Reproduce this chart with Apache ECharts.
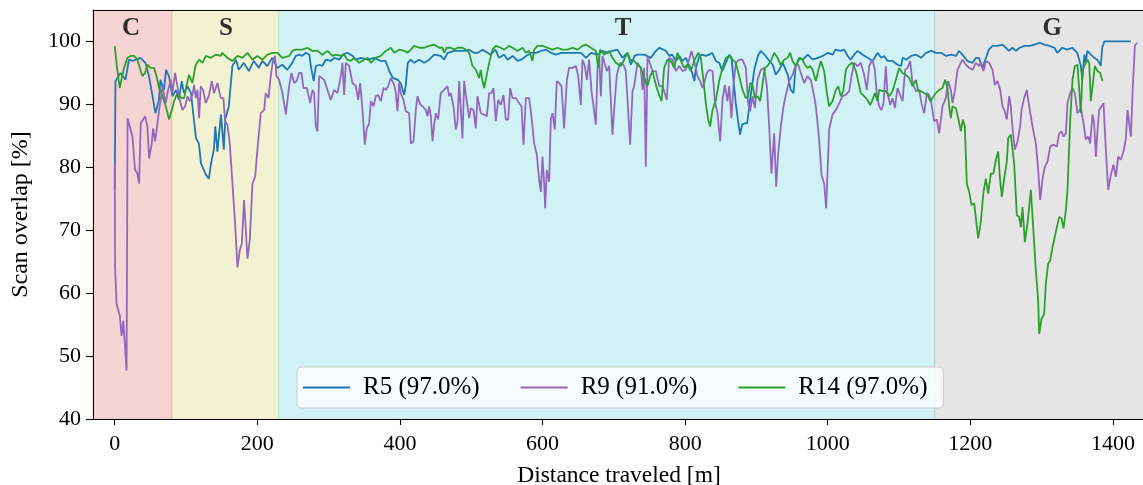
<!DOCTYPE html>
<html><head><meta charset="utf-8">
<script src="https://cdn.jsdelivr.net/npm/echarts@6/dist/echarts.min.js"></script>
<style>html,body{margin:0;padding:0;background:#fff}#c{width:1143px;height:485px}</style>
</head><body><div id="c"></div>
<script>
const bandNames=['C','S','T','G'];
const bandEdges=[-30.5,80,230,1150,1445];
const bandLabelX=[23,156,713,1315];
const bandLabelY=102.0;
const xTicks=[0,200,400,600,800,1000,1200,1400];
const yTicks=[40,50,60,70,80,90,100];
const seriesNames=['R5 (97.0%)','R9 (91.0%)','R14 (97.0%)'];

const r5Points=[[0,76.5],[1,93.7],[8,95.0],[15,93.9],[20,97.1],[25,96.9],[36,97.4],[43,96.6],[48,94.5],[53,91.3],[57,88.6],[62,90.7],[64,93.9],[69,92.3],[72,95.5],[76,94.5],[81,91.3],[86,92.3],[90,90.7],[94,93.7],[97,91.8],[102,92.9],[107,91.8],[111,87.6],[114,84.6],[118,83.8],[121,80.6],[128,78.8],[132,78.2],[135,80.6],[139,82.8],[141,86.5],[144,82.5],[149,88.4],[153,82.8],[155,87.6],[160,89.7],[165,96.1],[170,97.1],[174,95.5],[181,96.6],[188,95.3],[195,96.9],[202,95.8],[207,96.9],[214,96.1],[221,97.4],[228,95.8],[235,96.3],[242,95.5],[249,96.6],[254,97.7],[259,97.9],[263,97.7],[268,98.2],[273,97.9],[275,96.1],[279,93.7],[282,96.1],[287,96.3],[291,96.1],[296,97.1],[303,96.9],[308,97.4],[315,97.1],[320,97.9],[326,98.2],[334,97.7],[338,97.1],[345,97.4],[355,97.1],[364,97.4],[373,96.9],[380,96.9],[385,95.3],[390,94.2],[397,93.9],[401,93.4],[406,91.5],[408,92.9],[411,96.6],[415,97.1],[420,96.6],[427,97.1],[434,96.6],[441,97.1],[448,97.9],[457,97.7],[462,97.1],[467,98.2],[476,98.5],[485,98.5],[492,98.5],[497,98.7],[504,98.2],[509,98.2],[516,98.7],[523,98.2],[527,97.9],[534,98.7],[539,97.4],[546,97.9],[551,97.1],[558,97.7],[565,96.9],[570,97.1],[577,97.7],[584,98.2],[591,98.2],[598,98.5],[605,98.7],[612,98.2],[619,97.9],[626,98.2],[635,98.2],[644,98.2],[654,98.2],[661,97.4],[668,98.2],[677,97.9],[684,98.5],[691,98.2],[698,98.5],[705,98.7],[712,97.4],[719,98.2],[724,96.3],[729,97.7],[733,97.9],[743,97.9],[752,97.4],[759,98.5],[764,99.0],[773,98.5],[778,97.7],[782,97.9],[787,96.9],[792,97.7],[796,96.9],[801,97.4],[806,96.1],[810,95.0],[813,93.7],[815,95.8],[820,97.7],[824,97.9],[829,97.7],[834,97.9],[838,98.2],[843,96.9],[848,96.6],[852,95.3],[857,96.6],[862,97.9],[865,97.4],[868,93.7],[871,90.2],[874,87.6],[877,85.2],[880,86.8],[884,87.0],[887,87.0],[890,89.7],[893,92.3],[897,95.5],[902,97.7],[906,98.5],[913,97.7],[918,96.9],[923,96.3],[927,94.7],[932,95.5],[937,96.6],[944,94.7],[948,92.3],[952,91.8],[955,96.1],[960,97.4],[965,97.1],[972,97.9],[979,97.1],[986,97.4],[993,97.7],[1000,98.2],[1007,97.9],[1011,98.7],[1018,98.5],[1023,98.7],[1028,97.7],[1032,97.1],[1037,97.9],[1042,98.5],[1049,97.9],[1056,97.4],[1063,96.9],[1070,98.2],[1075,97.4],[1079,97.7],[1084,96.9],[1091,96.9],[1098,96.3],[1103,96.1],[1105,97.4],[1110,97.1],[1117,97.7],[1124,97.9],[1131,97.4],[1138,98.2],[1145,98.5],[1152,98.2],[1159,98.2],[1166,97.7],[1173,97.9],[1180,97.7],[1184,98.5],[1189,97.9],[1196,96.9],[1203,96.6],[1208,97.4],[1212,97.4],[1217,95.8],[1222,97.4],[1226,98.7],[1231,99.3],[1238,99.3],[1245,99.5],[1250,99.0],[1254,98.5],[1259,99.0],[1264,98.5],[1269,99.0],[1276,99.3],[1283,99.3],[1290,99.5],[1297,99.8],[1304,99.5],[1311,99.3],[1318,99.0],[1322,98.2],[1329,99.0],[1336,98.7],[1343,99.0],[1350,98.2],[1355,96.1],[1357,93.9],[1360,97.9],[1362,96.6],[1364,98.5],[1369,97.9],[1374,97.4],[1378,97.1],[1381,96.6],[1383,96.1],[1385,99.0],[1388,100],[1397,100],[1425,100]];

const r9Points=[[0,80.5],[0.5,64],[2.5,58.3],[7,56.5],[9.6,53.2],[12,55.6],[14.3,55.6],[16.6,47.7],[18,87.8],[24.8,84.9],[28.5,79.6],[31.8,79.0],[34.1,77.4],[36.5,87.0],[38.8,86.8],[42.6,88.1],[45.8,86.5],[48.2,81.4],[51.9,83.8],[53.8,86.2],[56.6,84.1],[59.9,87.0],[62.2,89.1],[64.5,90.7],[66.9,92.9],[71.5,90.2],[73.9,91.8],[78.6,93.9],[80.9,91.8],[84.6,95.0],[87.9,92.9],[91.2,90.7],[95,89.1],[98.7,89.7],[102,91.3],[105.2,90.5],[109,91.5],[111.3,93.1],[113.6,91.0],[116,92.3],[118.3,87.8],[120.6,92.9],[123.9,92.3],[127.7,90.2],[132.3,91.5],[136.1,93.7],[139.3,91.8],[144,93.4],[148.7,91.0],[152.4,91.0],[154.8,87.3],[158,86.8],[161.3,83.8],[165.1,77.4],[168.8,71.1],[172.1,64.1],[175.4,66.8],[178.2,67.9],[181.4,74.8],[183.8,70.0],[186.1,65.5],[189.4,68.4],[193.1,77.4],[196.9,78.5],[200.1,82.8],[204.8,88.6],[209.5,89.1],[211.8,91.8],[215.6,91.0],[218.8,94.5],[222.1,97.1],[224.9,97.7],[226.8,94.5],[230.5,93.9],[235.2,91.8],[240,88.4],[244.6,92.9],[247.9,95.0],[251.6,93.4],[255.3,93.7],[258.6,95.0],[261.9,95.0],[264.7,92.6],[269.4,92.6],[271.7,91.5],[274,90.2],[277.3,92.3],[279.7,91.8],[282,86.5],[284.3,85.7],[286.7,94.5],[289,94.7],[293.7,93.9],[298.4,92.3],[303,90.7],[307.7,92.3],[312.4,91.8],[317.1,94.5],[319.4,96.6],[321.7,91.5],[324.1,96.6],[328.8,96.1],[333.4,93.4],[338.1,92.9],[341.4,90.7],[344.2,93.4],[347.5,89.1],[350.7,83.6],[353.5,86.2],[356.8,87.0],[359.2,90.5],[362.9,89.7],[366.2,91.3],[369.4,91.5],[373.2,90.5],[376.9,92.6],[380.2,92.3],[383.5,92.9],[387.2,94.2],[391.9,93.1],[394.2,91.8],[396.6,88.9],[398.9,93.4],[401.2,91.8],[405,90.7],[408.3,88.9],[412.9,88.6],[415.3,83.8],[419,84.1],[422.3,89.1],[424.6,91.3],[428.4,90.0],[431.6,89.7],[436.3,89.1],[438.6,88.1],[441,89.7],[443.3,88.1],[445.7,84.1],[448,86.8],[450.3,88.6],[453.6,87.6],[457.3,91.8],[462,92.3],[466.7,92.9],[469,91.3],[471.4,91.8],[475.1,89.7],[478.4,86.0],[480.7,87.3],[483.1,93.7],[485.4,93.4],[487.7,84.6],[490.1,93.7],[492.4,91.5],[494.8,89.7],[497.1,87.8],[499.4,89.4],[503.2,89.1],[506.4,86.2],[508.8,91.3],[513.4,88.6],[518.1,88.35],[521.8,88.1],[525.1,91.8],[528.4,91.8],[531.2,92.6],[534.5,87.3],[537.7,90.7],[541.5,89.9],[545.2,91.5],[548.5,87.6],[551.8,87.6],[554.6,92.6],[557.9,91.0],[562.5,91.0],[567.2,90.2],[570.5,89.7],[573.3,83.6],[576.6,91.0],[581.2,91.0],[584.5,88.1],[588.2,83.8],[592,82.0],[595.3,78.0],[597.6,76.1],[599.9,81.7],[602.3,77.4],[603.7,73.5],[606,79.6],[609.3,77.7],[611.6,87.6],[614,88.6],[617.2,86.0],[620,93.7],[623.3,93.4],[626.6,92.9],[630.3,86.2],[634.1,93.9],[637.3,95.8],[642,95.8],[646.7,96.1],[650,94.5],[653.7,89.9],[656,97.1],[659.3,96.1],[662.1,93.9],[665.4,97.1],[668.7,92.1],[671.5,92.3],[674.8,86.8],[677.1,95.8],[679.4,97.7],[681.8,91.3],[684.1,97.7],[686.4,97.9],[690.2,95.3],[693.5,96.1],[698.1,85.2],[701.4,90.7],[704.2,94.7],[708.9,96.6],[713.6,96.3],[716.8,95.3],[722.9,83.6],[726.2,92.1],[728.5,92.9],[733.2,96.6],[737.9,95.8],[740.2,92.3],[742.6,95.8],[744.9,80.1],[747.2,97.7],[749.6,97.4],[754.2,95.3],[758.9,95.3],[763.6,92.9],[768.3,92.9],[770.6,92.9],[774.3,90.7],[777.6,97.4],[782.3,97.1],[786.9,95.3],[791.6,96.1],[796.3,95.3],[801,95.5],[805.6,97.1],[808.9,98.5],[812.7,96.9],[817.3,94.5],[821.1,93.7],[824.4,92.6],[826.7,93.4],[830.4,95.0],[833.7,95.5],[838.4,95.3],[841.7,90.5],[845.4,88.6],[849.1,84.1],[852.4,90.7],[855.7,93.1],[859.4,90.5],[861.8,92.9],[865,87.8],[867.8,93.1],[871.1,96.6],[875.8,97.1],[880.5,97.1],[885.1,95.8],[888.4,90.2],[891.2,88.9],[894.5,91.3],[897.8,89.4],[901.5,93.9],[906.2,95.5],[910.9,95.8],[914.6,92.9],[917.9,86.5],[921.1,79.0],[924.9,85.4],[927.7,76.9],[930.5,82.2],[934.2,86.5],[938,89.7],[941.3,91.5],[945.9,93.7],[950.6,94.7],[955.3,96.3],[958.6,96.3],[962.3,95.0],[967,93.4],[971.6,94.5],[976.3,93.9],[980.1,91.8],[983.3,89.7],[988,84.4],[991.3,78.8],[995,77.4],[997.8,73.5],[1002,86.0],[1006.7,88.4],[1011.4,89.1],[1016.1,90.2],[1020.7,91.3],[1025.4,91.5],[1030.1,92.1],[1033.4,94.5],[1037.1,96.6],[1041.8,96.1],[1046.4,96.6],[1051.1,94.7],[1054.8,92.3],[1058.1,96.1],[1062.8,97.1],[1066.1,95.5],[1068.9,91.5],[1072.1,89.7],[1075.4,89.1],[1078.2,90.2],[1081.5,96.1],[1083.8,91.8],[1087.6,89.9],[1090.9,91.0],[1094.1,89.4],[1097.9,92.6],[1101.6,91.5],[1104.9,90.5],[1108.6,95.5],[1111.9,95.8],[1115.6,96.9],[1118.9,93.4],[1123.6,92.1],[1128.3,92.3],[1131.5,90.2],[1135.3,88.6],[1139,91.8],[1142.3,91.5],[1144.6,90.7],[1149.3,87.3],[1153,87.6],[1156.3,85.4],[1161,89.7],[1165.6,91.0],[1168.9,93.7],[1172.7,92.3],[1175,90.2],[1178.3,92.1],[1182,95.5],[1186.7,96.6],[1189,97.1],[1193.7,96.3],[1198.4,95.8],[1203.1,95.5],[1207.8,96.6],[1212.4,96.1],[1214.8,96.6],[1218.5,95.3],[1221.8,96.9],[1226.5,96.6],[1231.1,95.5],[1234.4,93.1],[1238.1,93.7],[1241.9,92.3],[1245.1,89.7],[1248.4,88.9],[1251.2,87.6],[1254.5,91.3],[1256.8,89.7],[1259.2,86.2],[1262.4,82.8],[1266.2,84.1],[1269.9,86.5],[1271.8,89.1],[1275.5,91.0],[1279.3,92.3],[1282.5,89.7],[1287.2,86.5],[1291.9,83.8],[1295.2,79.6],[1298,74.8],[1301.3,78.2],[1304.5,80.1],[1308.3,80.9],[1312,83.3],[1316.7,83.6],[1321.3,83.3],[1324.6,85.4],[1327.9,85.7],[1330.7,84.9],[1334,85.4],[1336.3,90.2],[1340.1,91.8],[1343.3,92.6],[1346.6,91.8],[1350.3,88.6],[1352.7,88.4],[1355,89.4],[1358.8,87.0],[1362,84.4],[1365.3,84.9],[1368.1,83.8],[1371.4,88.4],[1373.7,87.0],[1376.1,81.7],[1378.4,85.9],[1380.7,89.1],[1384,89.7],[1386.8,90.2],[1390.1,82.8],[1393.4,76.4],[1397.1,78.8],[1400.8,80.4],[1404.1,78.5],[1407.4,81.7],[1411.1,81.2],[1414.9,82.5],[1418.2,84.6],[1420.5,89.1],[1422.8,87.0],[1425.2,84.9],[1427.5,91.8],[1430.8,99.3],[1433.6,99.8]];

const r14Points=[[0,99.25],[3.7,95.3],[7,92.6],[9.8,94.2],[13.1,95.8],[17.8,97.4],[22.4,97.7],[27.1,97.7],[31.8,97.1],[36.5,95.3],[38.8,94.5],[42.6,95.0],[45.8,96.3],[50.5,95.8],[55.2,95.8],[58.5,94.5],[62.2,92.6],[66.9,91.3],[71.5,89.7],[76.2,87.6],[80,89.1],[83.2,90.5],[86.5,91.5],[90.3,91.3],[94,91.0],[97.3,91.0],[100.5,92.9],[104.3,94.7],[108.9,93.4],[113.6,96.3],[118.3,97.1],[123,96.6],[127.7,97.7],[134.7,97.4],[141.7,97.9],[148.7,97.7],[151,98.2],[158,97.4],[165.1,96.9],[172.1,97.7],[179.1,97.4],[186.1,98.2],[193.1,97.1],[200.1,97.7],[207.2,97.1],[214.2,97.9],[221.2,98.2],[228.2,98.2],[235.2,97.4],[244.6,97.7],[249.2,98.5],[253.9,98.7],[263.3,98.7],[270.3,99.0],[277.3,98.5],[284.3,98.5],[291.4,97.9],[298.4,98.5],[305.4,97.7],[310.1,97.9],[317.1,97.7],[321.7,97.9],[326.4,97.1],[331.1,96.9],[335.8,97.4],[342.8,96.6],[349.8,97.1],[354.5,97.4],[359.2,96.6],[366.2,97.4],[373.2,97.7],[380.2,98.5],[387.2,99.0],[391.9,98.2],[398.9,98.7],[405.9,98.5],[410.6,98.2],[415.3,98.7],[419.9,99.3],[427,99.0],[434,99.0],[441,99.3],[448,99.5],[455,99.0],[459.7,99.0],[462,98.2],[465.8,99.0],[471.4,99.0],[476.1,98.7],[480.7,99.0],[487.7,99.0],[492.4,98.7],[497.1,98.2],[501.7,96.1],[506.4,95.5],[511.1,94.2],[513.4,95.5],[515.8,93.7],[518.1,92.6],[521.8,94.7],[525.1,96.6],[529.8,98.7],[534.5,99.3],[541.5,99.0],[546.2,98.7],[553.2,99.3],[557.9,99.0],[564.9,98.5],[571.9,99.0],[576.6,98.2],[581.2,98.5],[585.9,96.9],[588.2,98.7],[592.9,99.3],[599.9,99.3],[607,99.0],[614,98.7],[621,99.0],[628,98.7],[635,98.7],[642,99.0],[649,98.7],[656,99.3],[660.7,99.5],[667.7,99.0],[674.8,98.5],[678,95.8],[680.8,98.7],[686.4,97.9],[693.5,98.5],[698.1,97.4],[702.8,96.6],[709.8,96.1],[714.5,97.1],[719.2,98.2],[722.9,97.1],[728.5,96.9],[733.2,96.3],[737.9,95.8],[741.6,94.5],[747.2,92.9],[751,94.5],[754.2,95.3],[758.9,93.1],[763.6,91.5],[766.9,90.5],[770.6,95.8],[775.3,97.1],[779.9,96.9],[784.6,95.8],[789.3,98.2],[794,96.9],[798.6,95.8],[803.3,96.3],[808,95.3],[812.7,96.9],[818.3,98.2],[822,97.4],[825.8,93.7],[829,90.2],[832.3,87.6],[835.1,86.5],[838.4,89.1],[843.1,90.7],[847.7,93.7],[852.4,95.8],[857.1,97.4],[861.8,97.7],[866.4,97.1],[871.1,96.6],[875.8,94.5],[880.5,92.3],[885.1,91.0],[888.4,91.3],[891.2,93.4],[894.5,93.1],[897.8,91.0],[901.5,91.3],[905.2,90.5],[908.5,93.1],[911.8,95.8],[915.5,96.1],[920.2,96.9],[924.9,98.2],[929.6,97.4],[934.2,96.3],[938.9,97.1],[943.6,97.4],[947.3,98.2],[950.6,96.9],[955.3,96.1],[958.6,96.9],[961.4,97.4],[964.6,97.1],[967.9,96.3],[971.6,95.8],[975.4,96.1],[978.7,95.5],[983.3,93.7],[986.6,95.3],[990.4,96.9],[995,95.3],[998.8,91.8],[1002,89.7],[1006.7,90.5],[1011.4,92.3],[1014.7,92.9],[1018.4,91.3],[1022.1,92.3],[1025.4,95.5],[1030.1,96.3],[1034.8,96.6],[1039.4,95.3],[1042.7,93.7],[1046.4,91.8],[1051.1,91.3],[1055.8,90.7],[1059.5,89.9],[1062.8,90.7],[1066.1,91.8],[1069.8,90.5],[1072.1,92.3],[1076.8,92.1],[1081.5,92.1],[1086.2,91.3],[1090.9,92.1],[1095.5,93.9],[1100.2,95.8],[1104.9,95.0],[1109.6,94.7],[1114.2,94.2],[1118.9,92.9],[1123.6,93.9],[1126.9,92.1],[1130.6,92.1],[1135.3,91.8],[1140,91.5],[1143.7,90.5],[1147,91.0],[1151.6,91.8],[1156.3,92.3],[1161,92.6],[1164.7,93.9],[1168,92.6],[1170.3,89.7],[1172.7,87.8],[1175,89.7],[1179.7,89.4],[1183,87.8],[1186.7,85.7],[1189.5,87.6],[1192.3,86.5],[1195.1,77.4],[1198.4,76.1],[1201.7,74.0],[1205.4,74.3],[1211,68.7],[1214.7,71.3],[1218.5,76.1],[1221.8,78.2],[1225,75.8],[1228.8,79.0],[1232.5,79.0],[1235.8,81.2],[1239.1,82.5],[1241.4,78.5],[1244.2,75.3],[1247.5,78.2],[1251.2,80.9],[1253.1,84.6],[1256.8,85.2],[1259.2,85.4],[1261.5,80.6],[1265.2,72.4],[1268.5,72.1],[1270.9,70.5],[1273.2,73.7],[1276.5,68.1],[1280.2,71.1],[1284.9,76.4],[1288.2,70.5],[1291.9,63.6],[1295.2,58.8],[1296.6,53.5],[1299.8,55.9],[1303.6,56.7],[1305.9,61.5],[1309.2,64.7],[1312,65.2],[1315.3,67.3],[1317.6,67.3],[1321.4,70.5],[1324.6,72.1],[1327.9,71.9],[1330.7,70.3],[1334,73.2],[1336.3,76.4],[1340.1,87.6],[1343.3,93.9],[1346.6,96.1],[1350.3,96.3],[1352.7,96.1],[1355,88.6],[1357.4,95.5],[1360.6,96.3],[1364.4,97.1],[1366.7,96.6],[1369,90.5],[1371.4,92.9],[1374.7,96.1],[1378.4,95.3],[1382.1,95.0],[1385.4,93.7]];

const FONT='"Liberation Serif","DejaVu Serif",serif';
const bandFill=['rgba(214,39,40,0.2)','rgba(188,189,34,0.2)','rgba(23,190,207,0.2)','rgba(127,127,127,0.2)'];
const lineColors=['#1f77b4','#9467bd','#2ca02c'];
const X_MIN=bandEdges[0], X_MAX=bandEdges[bandEdges.length-1];

const chart=echarts.init(document.getElementById('c'),null,{renderer:'canvas'});
const lineSeries=[r5Points,r9Points,r14Points].map((pts,i)=>({
  name:seriesNames[i],type:'line',data:pts,showSymbol:false,symbol:'none',
  lineStyle:{color:lineColors[i],width:1.8},itemStyle:{color:lineColors[i]},
  z:3,animation:false,silent:true
}));
const option={
  animation:false,
  grid:{left:93,right:-2,top:10,bottom:66,containLabel:false,outerBoundsMode:'none'},
  legend:{
    data:seriesNames,left:297,top:367,orient:'horizontal',
    icon:'rect',itemWidth:47,itemHeight:2,itemGap:41,
    padding:[8,16,8,6],
    backgroundColor:'rgba(255,255,255,0.8)',borderColor:'#cccccc',borderWidth:1,borderRadius:4,
    textStyle:{fontFamily:FONT,fontSize:25,color:'#000',lineHeight:24,padding:[0,0,0,8]}
  },
  xAxis:[{
    type:'value',min:X_MIN,max:X_MAX,position:'bottom',z:10,
    name:'Distance traveled [m]',nameLocation:'middle',nameGap:45,
    nameTextStyle:{fontFamily:FONT,fontSize:23.5,color:'#000'},
    axisLine:{show:true,onZero:false,lineStyle:{color:'#000',width:1.1}},
    axisTick:{show:true,length:6,customValues:xTicks,lineStyle:{color:'#000',width:1.1}},
    axisLabel:{customValues:xTicks,formatter:v=>String(v),fontFamily:FONT,fontSize:22,color:'#000',margin:14},
    splitLine:{show:false}
  },{
    type:'value',min:X_MIN,max:X_MAX,position:'top',z:10,
    axisLine:{show:true,onZero:false,lineStyle:{color:'#000',width:1.1}},
    axisTick:{show:false},axisLabel:{show:false},splitLine:{show:false}
  }],
  yAxis:{
    type:'value',min:40,max:105,z:10,
    name:'Scan overlap [%]',nameLocation:'middle',nameGap:60,nameRotate:90,
    nameTextStyle:{fontFamily:FONT,fontSize:24,color:'#000'},
    axisLine:{show:true,onZero:false,lineStyle:{color:'#000',width:1.1}},
    axisTick:{show:true,length:7,customValues:yTicks,lineStyle:{color:'#000',width:1.1}},
    axisLabel:{customValues:yTicks,formatter:v=>String(v),fontFamily:FONT,fontSize:22,color:'#000',margin:12},
    splitLine:{show:false}
  },
  series:[
    {type:'line',data:[],silent:true,z:1,
     markArea:{silent:true,
       data:bandNames.map((n,i)=>[{xAxis:bandEdges[i],itemStyle:{color:bandFill[i],borderColor:bandFill[i],borderWidth:1}},{xAxis:bandEdges[i+1]}])}},
    ...lineSeries,
    {type:'scatter',data:bandLabelX.map((x,i)=>({value:[x,bandLabelY],name:bandNames[i]})),
     symbolSize:0,silent:true,z:5,
     label:{show:true,position:'inside',formatter:p=>p.name,fontFamily:FONT,fontWeight:'bold',fontSize:25,color:'#000'}}
  ]
};
chart.setOption(option);
</script></body></html>
